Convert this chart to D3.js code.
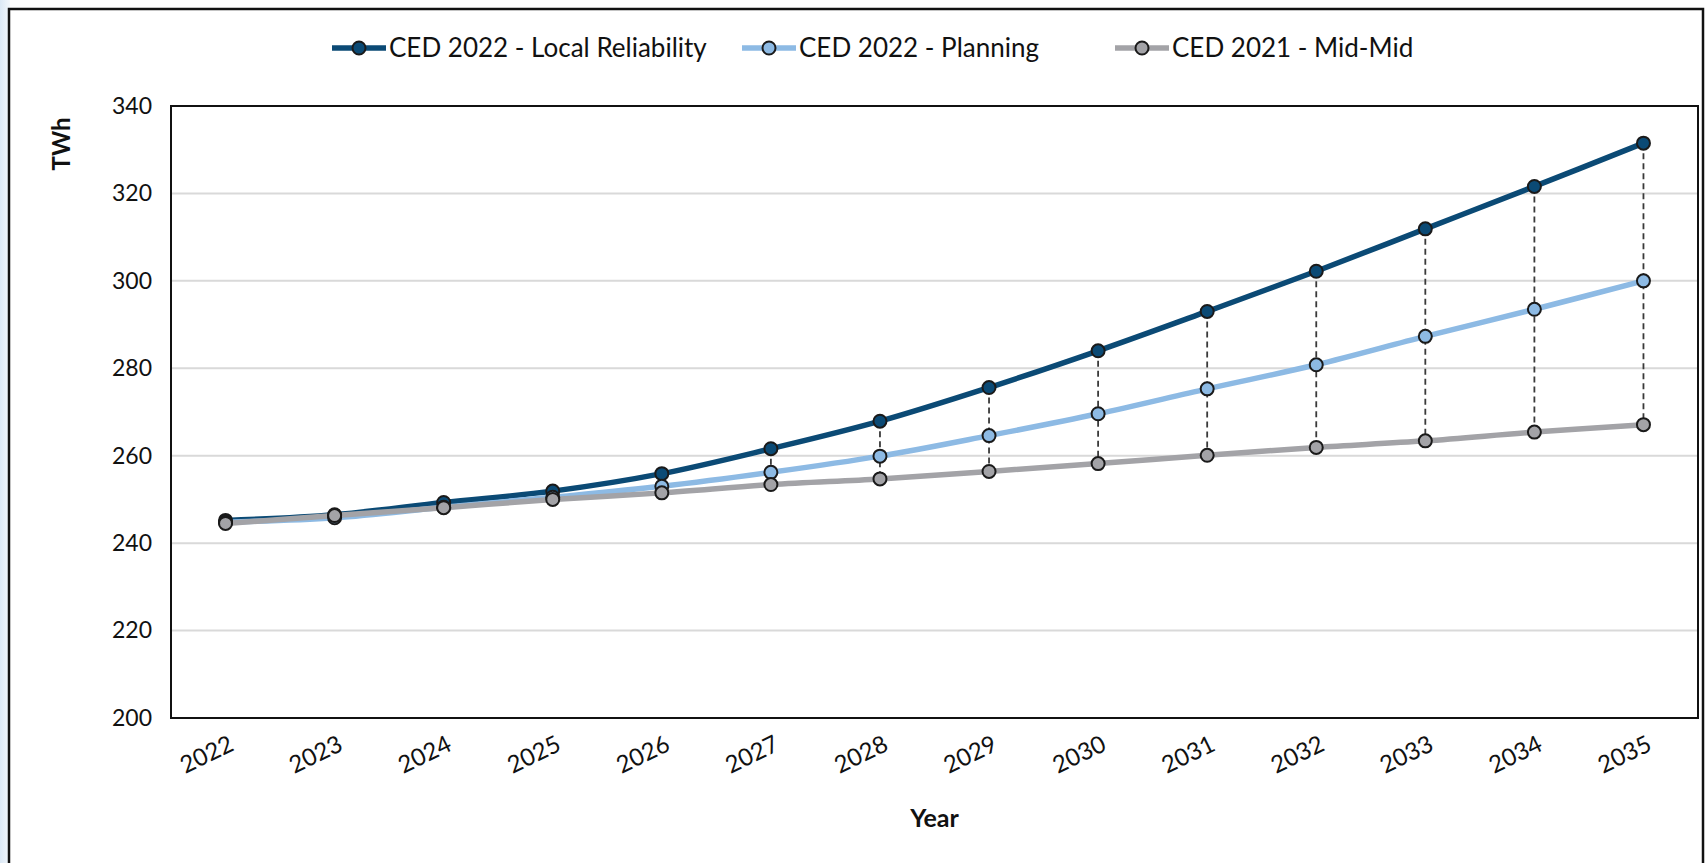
<!DOCTYPE html>
<html lang="en">
  <head>
    <meta charset="utf-8">
    <title>CED Forecast Comparison</title>
    <style>
      body {
        margin: 0;
        background: #fff;
        font-family: Lato, "Open Sans", Arial, sans-serif;
      }
    </style>
  </head>
  <body>
    <svg id="chart" width="1706" height="863"></svg>
    <script src="https://d3js.org/d3.v7.min.js"></script>
    <script>
      const years = [2022, 2023, 2024, 2025, 2026, 2027, 2028, 2029, 2030, 2031, 2032, 2033, 2034, 2035];
      const localReliability = [245.2, 246.5, 249.3, 251.9, 255.9, 261.6, 267.9, 275.6, 284.0, 293.0, 302.2, 311.9, 321.6, 331.5];
      const planning = [244.8, 245.8, 248.2, 250.5, 253.0, 256.2, 259.9, 264.6, 269.6, 275.3, 280.8, 287.3, 293.5, 300.0];
      const midMid = [244.5, 246.3, 248.1, 250.0, 251.5, 253.4, 254.7, 256.4, 258.2, 260.1, 261.9, 263.4, 265.4, 267.1];
      const yTicks = [200, 220, 240, 260, 280, 300, 320, 340];

      const series = [
        { name: "CED 2022 - Local Reliability", values: localReliability, color: "#0b4a75" },
        { name: "CED 2022 - Planning", values: planning, color: "#8dbae4" },
        { name: "CED 2021 - Mid-Mid", values: midMid, color: "#a3a3a7" }
      ];

      const svg = d3.select("#chart");
      const W = 1706, H = 863;
      const plot = { left: 171, top: 106, right: 1698, bottom: 718 };

      // page edge + outer chart frame
      const grad = svg.append("defs").append("linearGradient")
          .attr("id", "edge").attr("x1", 0).attr("x2", 1);
      grad.append("stop").attr("offset", 0).attr("stop-color", "#dbe8f5");
      grad.append("stop").attr("offset", 1).attr("stop-color", "#f3f7fb");
      svg.append("rect").attr("x", 0).attr("y", 0).attr("width", 10).attr("height", H).attr("fill", "url(#edge)");
      svg.append("rect")
          .attr("x", 9).attr("y", 9).attr("width", 1694).attr("height", H + 20)
          .attr("fill", "#fff").attr("stroke", "#111").attr("stroke-width", 2.5);

      const x = d3.scaleBand()
          .domain(years)
          .range([plot.left, plot.right]);
      const cx = d => x(d) + x.bandwidth() / 2;

      const y = d3.scaleLinear()
          .domain([200, 340])
          .range([plot.bottom, plot.top]);

      // gridlines
      svg.append("g")
        .selectAll("line")
        .data(yTicks.filter(t => t > 200 && t < 340))
        .join("line")
          .attr("x1", plot.left).attr("x2", plot.right)
          .attr("y1", d => y(d)).attr("y2", d => y(d))
          .attr("stroke", "#d9d9d9").attr("stroke-width", 2);

      // y axis labels
      const yAxis = svg.append("g")
          .attr("transform", `translate(${plot.left - 19},0)`)
          .call(d3.axisLeft(y).tickValues(yTicks).tickSize(0).tickPadding(0));
      yAxis.select(".domain").remove();
      yAxis.selectAll("text")
          .attr("font-family", "Lato, sans-serif")
          .attr("font-size", 23)
          .attr("fill", "#111");

      // x axis labels
      const xAxis = svg.append("g")
          .attr("transform", `translate(0,${plot.bottom})`)
          .call(d3.axisBottom(x).tickSize(0).tickPadding(0));
      xAxis.select(".domain").remove();
      xAxis.selectAll("text")
          .attr("font-family", "Lato, sans-serif")
          .attr("font-size", 24)
          .attr("fill", "#111")
          .attr("text-anchor", "end")
          .attr("dy", "0.35em")
          .attr("transform", "translate(6,24) rotate(-26)");

      // plot frame
      svg.append("rect")
          .attr("x", plot.left).attr("y", plot.top)
          .attr("width", plot.right - plot.left).attr("height", plot.bottom - plot.top)
          .attr("fill", "none").attr("stroke", "#111").attr("stroke-width", 2);

      const line = d3.line()
          .x((d, i) => cx(years[i]))
          .y(d => y(d))
          .curve(d3.curveCatmullRom);

      series.forEach(s => {
        svg.append("path")
            .datum(s.values)
            .attr("d", line)
            .attr("fill", "none")
            .attr("stroke", s.color)
            .attr("stroke-width", 5.5)
            .attr("stroke-linecap", "round");
      });

      // drop lines from the highest to the lowest forecast
      svg.append("g")
        .selectAll("line")
        .data(years)
        .join("line")
          .attr("x1", d => cx(d)).attr("x2", d => cx(d))
          .attr("y1", (d, i) => y(localReliability[i]))
          .attr("y2", (d, i) => y(midMid[i]))
          .attr("stroke", "#3a3a3a")
          .attr("stroke-width", 1.8)
          .attr("stroke-dasharray", "6,4");

      series.forEach(s => {
        svg.append("g")
          .selectAll("circle")
          .data(s.values)
          .join("circle")
            .attr("cx", (d, i) => cx(years[i]))
            .attr("cy", d => y(d))
            .attr("r", 6.5)
            .attr("fill", s.color)
            .attr("stroke", "#1a1a1a")
            .attr("stroke-width", 2);
      });

      // axis titles
      svg.append("text")
          .attr("transform", `translate(70,${plot.top + 38}) rotate(-90)`)
          .attr("text-anchor", "middle")
          .attr("font-family", "Lato, sans-serif")
          .attr("font-weight", "bold")
          .attr("font-size", 24)
          .attr("fill", "#111")
          .text("TWh");

      svg.append("text")
          .attr("x", (plot.left + plot.right) / 2)
          .attr("y", 827)
          .attr("text-anchor", "middle")
          .attr("font-family", "Lato, sans-serif")
          .attr("font-weight", "bold")
          .attr("font-size", 25)
          .attr("fill", "#111")
          .text("Year");

      // legend
      const legendX = [332, 742, 1115];
      const legend = svg.append("g")
        .selectAll("g")
        .data(series)
        .join("g")
          .attr("transform", (d, i) => `translate(${legendX[i]},48)`);
      legend.append("line")
          .attr("x1", 0).attr("x2", 54)
          .attr("stroke", d => d.color).attr("stroke-width", 5.5);
      legend.append("circle")
          .attr("cx", 27).attr("r", 6.5)
          .attr("fill", d => d.color)
          .attr("stroke", "#1a1a1a").attr("stroke-width", 2);
      legend.append("text")
          .attr("x", 57)
          .attr("dy", "0.36em")
          .attr("font-family", "Lato, sans-serif")
          .attr("font-size", 26)
          .attr("fill", "#111")
          .text(d => d.name);
    </script>
  </body>
</html>
